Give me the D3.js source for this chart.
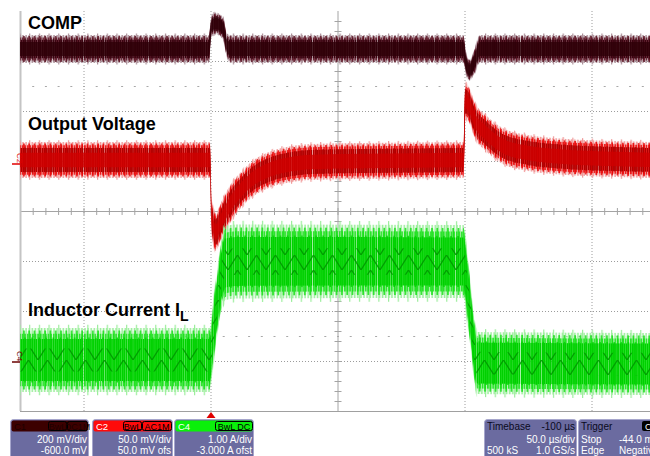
<!DOCTYPE html>
<html>
<head>
<meta charset="utf-8">
<script src="https://cdn.jsdelivr.net/npm/d3@7"></script>
<style>
  html, body { margin: 0; padding: 0; background: #fff; }
  svg { display: block; font-family: "Liberation Sans", Arial, sans-serif; }
</style>
</head>
<body>
<div id="scope"></div>
<script>
// time in microseconds: load step applied at t = 0, removed at t = 100
const gridTimes = [-50, 0, 100, 150];

// COMP (V), 200 mV/div, -600 mV offset
const compTime   = [-75, -0.6, 0.4, 2, 5, 6.5, 8, 99.6, 100.6, 102, 104, 106, 175];
const compVolts  = [1.248, 1.248, 1.34, 1.35, 1.33, 1.26, 1.248, 1.248, 1.19, 1.164, 1.2, 1.248, 1.248];
const compRipple = [0.112, 0.112, 0.088, 0.088, 0.09, 0.1, 0.112, 0.112, 0.09, 0.085, 0.1, 0.112, 0.112];

// Output voltage (mV, AC), 50 mV/div, 50 mV offset
const voutTime   = [-75, -0.2, 0.4, 1, 2, 4, 6, 8, 12, 16, 22, 30, 40, 60, 99.7, 100.3, 102, 104, 108, 115, 125, 140, 160, 175];
const voutMilli  = [1, 1, -54, -64, -71, -61, -51, -42, -29, -19, -10, -4, -1, 0, 1, 60, 55, 41, 29, 15, 8, 4, 2, 1];
const voutRipple = [36, 36, 38, 38, 38, 38, 38, 38, 36, 36, 36, 36, 36, 36, 36, 36, 36, 36, 36, 36, 36, 36, 36, 36];

// Inductor current (A), 1 A/div, -3 A offset
const ilTime   = [-75, -0.3, 1.2, 2.8, 4.3, 5.9, 10, 99.6, 101.2, 102.4, 103.5, 105, 175];
const ilAmps   = [0.02, 0.02, 0.62, 1.22, 1.72, 1.96, 1.99, 1.99, 1.42, 0.92, 0.36, -0.04, -0.06];
const ilRipple = [1.28, 1.28, 1.3, 1.35, 1.42, 1.48, 1.48, 1.46, 1.4, 1.32, 1.26, 1.24, 1.24];

const labels = ["COMP", "Output Voltage", "Inductor Current I"];

const width = 650, height = 456;
const svg = d3.select("#scope").append("svg")
    .attr("width", width)
    .attr("height", height);

svg.append("rect").attr("width", width).attr("height", height).attr("fill", "#fff");

const x = d3.scaleLinear().domain([-75, 175]).range([20, 655]);
const yDiv = d3.scaleLinear().domain([-4, 4]).range([411, 11]);

const defs = svg.append("defs");
const grid = svg.append("g");

// graticule
grid.selectAll(".vdot").data(gridTimes).enter().append("line")
    .attr("x1", d => x(d) + 0.5).attr("x2", d => x(d) + 0.5)
    .attr("y1", yDiv(4)).attr("y2", yDiv(-4))
    .attr("stroke", "#9c9c9c").attr("stroke-dasharray", "1,2");

grid.selectAll(".hdot").data([3, 2, 1, -1, -2, -3]).enter().append("line")
    .attr("x1", 20).attr("x2", width)
    .attr("y1", d => yDiv(d) + 0.5).attr("y2", d => yDiv(d) + 0.5)
    .attr("stroke", "#9c9c9c").attr("stroke-dasharray", "1,2");

// center cross with minor ticks
grid.append("line").attr("x1", 20).attr("x2", width)
    .attr("y1", yDiv(0) + 0.5).attr("y2", yDiv(0) + 0.5).attr("stroke", "#a4a4a4");
grid.append("line").attr("x1", x(50) + 0.5).attr("x2", x(50) + 0.5)
    .attr("y1", yDiv(4)).attr("y2", yDiv(-4)).attr("stroke", "#a4a4a4");

const minorT = d3.range(-70, 176, 5);
grid.selectAll(".tx").data(minorT).enter().append("line")
    .attr("x1", d => x(d) + 0.5).attr("x2", d => x(d) + 0.5)
    .attr("y1", yDiv(0) - 3).attr("y2", yDiv(0) + 4)
    .attr("stroke", "#a4a4a4");
grid.selectAll(".ty").data(d3.range(-3.8, 4, 0.2)).enter().append("line")
    .attr("x1", x(50) - 3).attr("x2", x(50) + 4)
    .attr("y1", d => yDiv(d) + 0.5).attr("y2", d => yDiv(d) + 0.5)
    .attr("stroke", "#a4a4a4");

// dot rows at +/- 2.5 div
[2.5, -2.5].forEach(level => {
    grid.selectAll(null).data(minorT).enter().append("rect")
        .attr("x", d => x(d) - 0.5).attr("y", yDiv(level))
        .attr("width", 2).attr("height", 1)
        .attr("fill", "#a8a8a8");
});

// frame
grid.append("line").attr("x1", 20.5).attr("x2", 20.5)
    .attr("y1", yDiv(4)).attr("y2", yDiv(-4)).attr("stroke", "#c4c4c4").attr("stroke-width", 2);
grid.append("line").attr("x1", 20).attr("x2", width)
    .attr("y1", yDiv(-4) + 0.5).attr("y2", yDiv(-4) + 0.5).attr("stroke", "#a0a0a0");

// stripe patterns give the trace its sampled look
function stripes(id, period, w, color, offset) {
    defs.append("pattern")
        .attr("id", id)
        .attr("patternUnits", "userSpaceOnUse")
        .attr("width", period).attr("height", 4)
        .append("rect")
        .attr("x", offset || 0).attr("y", 0)
        .attr("width", w).attr("height", 4)
        .attr("fill", color);
}

function drawTrace(name, time, vals, ripple, vdiv, ofs, c) {
    const y = v => yDiv((v + ofs) / vdiv);
    const idx = d3.range(time.length);
    const layers = [
        { k: 1.1, p: 9.7, w: 1.2, col: c.light, off: 0 },
        { k: 1.0, p: 3.1, w: 1.6, col: c.light, off: 0.5 },
        { k: 0.92, p: 5.3, w: 1.4, col: c.mid, off: 2 },
        { k: 0.82, p: 2.6, w: 1.4, col: c.mid, off: 1 },
        { k: 0.66, p: 2.1, w: 1.5, col: c.dark, off: 0 },
        { k: 0.7, p: 7.1, w: 1.3, col: c.dark, off: 3 }
    ];
    const g = svg.append("g").attr("class", "trace-" + name);
    // faint fill behind the stripes
    const back = d3.area()
        .x(i => x(time[i]))
        .y0(i => y(vals[i] - 0.9 * ripple[i] / 2))
        .y1(i => y(vals[i] + 0.9 * ripple[i] / 2))
        .curve(d3.curveMonotoneX);
    g.append("path").datum(idx).attr("d", back).attr("fill", c.light).attr("opacity", c.backOp);
    layers.forEach((L, j) => {
        const pid = name + "-p" + j;
        stripes(pid, L.p, L.w, L.col, L.off);
        const area = d3.area()
            .x(i => x(time[i]))
            .y0(i => y(vals[i] - L.k * ripple[i] / 2))
            .y1(i => y(vals[i] + L.k * ripple[i] / 2))
            .curve(d3.curveMonotoneX);
        g.append("path").datum(idx).attr("d", area).attr("fill", "url(#" + pid + ")");
    });
    // dense core
    const core = d3.area()
        .x(i => x(time[i]))
        .y0(i => y(vals[i] - c.coreK * ripple[i] / 2))
        .y1(i => y(vals[i] + c.coreK * ripple[i] / 2))
        .curve(d3.curveMonotoneX);
    if (c.chevron) {
        const pid = name + "-chev";
        const pat = defs.append("pattern").attr("id", pid)
            .attr("patternUnits", "userSpaceOnUse")
            .attr("width", 19).attr("height", 15);
        pat.append("path").attr("d", "M0,15L9.5,0L19,15")
            .attr("fill", "none").attr("stroke", c.core).attr("stroke-width", 1.3)
            .attr("opacity", 0.85);
        g.append("path").datum(idx).attr("d", core).attr("fill", "url(#" + pid + ")");
    } else {
        g.append("path").datum(idx).attr("d", core).attr("fill", c.core).attr("opacity", 0.8);
    }
}

drawTrace("comp", compTime, compVolts, compRipple, 0.2, -0.6,
    { light: "#ab8f98", mid: "#5a1020", dark: "#3a0410", core: "#2e0008", coreK: 0.5, backOp: 0.35 });
drawTrace("vout", voutTime, voutMilli, voutRipple, 50, 50,
    { light: "#f09a9a", mid: "#e80000", dark: "#b00000", core: "#d00000", coreK: 0.4, backOp: 0.3 });
drawTrace("il", ilTime, ilAmps, ilRipple, 1, -3,
    { light: "#9cee9c", mid: "#14e014", dark: "#00d000", core: "#009400", coreK: 0.36, backOp: 0.25, chevron: true });

// channel ground markers
[["C2", "#e00000", 158], ["C4", "#6a0000", 356]].forEach(m => {
    svg.append("text")
        .attr("transform", `translate(17,${m[2]}) rotate(90)`)
        .attr("text-anchor", "middle")
        .attr("font-size", 8).attr("fill", m[1])
        .text(m[0]);
    svg.append("line").attr("x1", 12).attr("x2", 20)
        .attr("y1", m[2] + 6).attr("y2", m[2] + 6)
        .attr("stroke", m[1]).attr("stroke-width", 1.5);
});

// trace titles
const titleY = [29, 130, 316];
labels.forEach((t, i) => {
    const tx = svg.append("text")
        .attr("x", 28).attr("y", titleY[i])
        .attr("font-size", 18).attr("font-weight", "bold")
        .attr("fill", "#000")
        .text(t);
    if (i === 2) {
        tx.append("tspan").attr("font-size", 14).attr("dy", 5).text("L");
    }
});

// trigger marker
svg.append("path")
    .attr("d", `M${x(0) - 4},${418}L${x(0) + 0.5},${412}L${x(0) + 5},${418}Z`)
    .attr("fill", "#e00000");

// status boxes
const boxBg = "#6b6ba0", boxEdge = "#a6a6cc";
const chanBoxes = [
    { x: 10, w: 78, head: "#3c0000", name: "C1", nameCol: "#1c0000", chips: [["BwL", 38, 18], ["DC1M", 57, 20]], chipText: "#1c0000", rows: ["200 mV/div", "-600.0 mV"] },
    { x: 92, w: 80, head: "#ff0a0a", name: "C2", nameCol: "#fff", chips: [["BwL", 31, 18], ["AC1M", 50, 29]], chipText: "#000", rows: ["50.0 mV/div", "50.0 mV ofs"] },
    { x: 174, w: 79, head: "#0af00a", name: "C4", nameCol: "#fff", chips: [["BwL DC", 41, 37]], chipText: "#000", rows: ["1.00 A/div", "-3.000 A ofst"] }
];

chanBoxes.forEach(b => {
    const g = svg.append("g");
    g.append("rect").attr("x", b.x + 0.5).attr("y", 419.5).attr("width", b.w).attr("height", 45)
        .attr("rx", 3).attr("fill", boxBg).attr("stroke", boxEdge);
    g.append("rect").attr("x", b.x + 1.5).attr("y", 420.5).attr("width", b.w - 2).attr("height", 11)
        .attr("rx", 2).attr("fill", b.head);
    g.append("text").attr("x", b.x + 4).attr("y", 429.5).attr("font-size", 9.5)
        .attr("fill", b.nameCol).text(b.name);
    b.chips.forEach(c => {
        g.append("rect").attr("x", b.x + c[1] + 0.5).attr("y", 421.5).attr("width", c[2]).attr("height", 9)
            .attr("rx", 2).attr("fill", "none").attr("stroke", "#000");
        g.append("text").attr("x", b.x + c[1] + c[2] / 2 + 0.5).attr("y", 429.5)
            .attr("text-anchor", "middle").attr("font-size", 9)
            .attr("fill", b.chipText).text(c[0]);
    });
    b.rows.forEach((r, i) => {
        g.append("text").attr("x", b.x + b.w - 1).attr("y", 443 + i * 11)
            .attr("text-anchor", "end").attr("font-size", 10)
            .attr("fill", "#fff").text(r);
    });
});

// timebase and trigger boxes
const tb = svg.append("g");
tb.append("rect").attr("x", 484.5).attr("y", 419.5).attr("width", 92).attr("height", 45)
    .attr("rx", 3).attr("fill", boxBg).attr("stroke", boxEdge);
tb.append("text").attr("x", 487).attr("y", 430).attr("font-size", 10).attr("fill", "#0a0a20").text("Timebase");
tb.append("text").attr("x", 575).attr("y", 430).attr("font-size", 10).attr("text-anchor", "end").attr("fill", "#0a0a20").text("-100 µs");
tb.append("text").attr("x", 575).attr("y", 443).attr("font-size", 10).attr("text-anchor", "end").attr("fill", "#fff").text("50.0 µs/div");
tb.append("text").attr("x", 487).attr("y", 454).attr("font-size", 10).attr("fill", "#fff").text("500 kS");
tb.append("text").attr("x", 575).attr("y", 454).attr("font-size", 10).attr("text-anchor", "end").attr("fill", "#fff").text("1.0 GS/s");

const tr = svg.append("g");
tr.append("rect").attr("x", 578.5).attr("y", 419.5).attr("width", 90).attr("height", 45)
    .attr("rx", 3).attr("fill", boxBg).attr("stroke", boxEdge);
tr.append("text").attr("x", 581).attr("y", 430).attr("font-size", 10).attr("fill", "#0a0a20").text("Trigger");
tr.append("rect").attr("x", 642).attr("y", 421).attr("width", 14).attr("height", 10).attr("rx", 2).attr("fill", "#000");
tr.append("text").attr("x", 645).attr("y", 429.5).attr("font-size", 9).attr("fill", "#fff").text("C");
tr.append("text").attr("x", 581).attr("y", 443).attr("font-size", 10).attr("fill", "#fff").text("Stop");
tr.append("text").attr("x", 619).attr("y", 443).attr("font-size", 10).attr("fill", "#fff").text("-44.0 mV");
tr.append("text").attr("x", 581).attr("y", 454).attr("font-size", 10).attr("fill", "#fff").text("Edge");
tr.append("text").attr("x", 619).attr("y", 454).attr("font-size", 10).attr("fill", "#fff").text("Negative");
</script>
</body>
</html>
